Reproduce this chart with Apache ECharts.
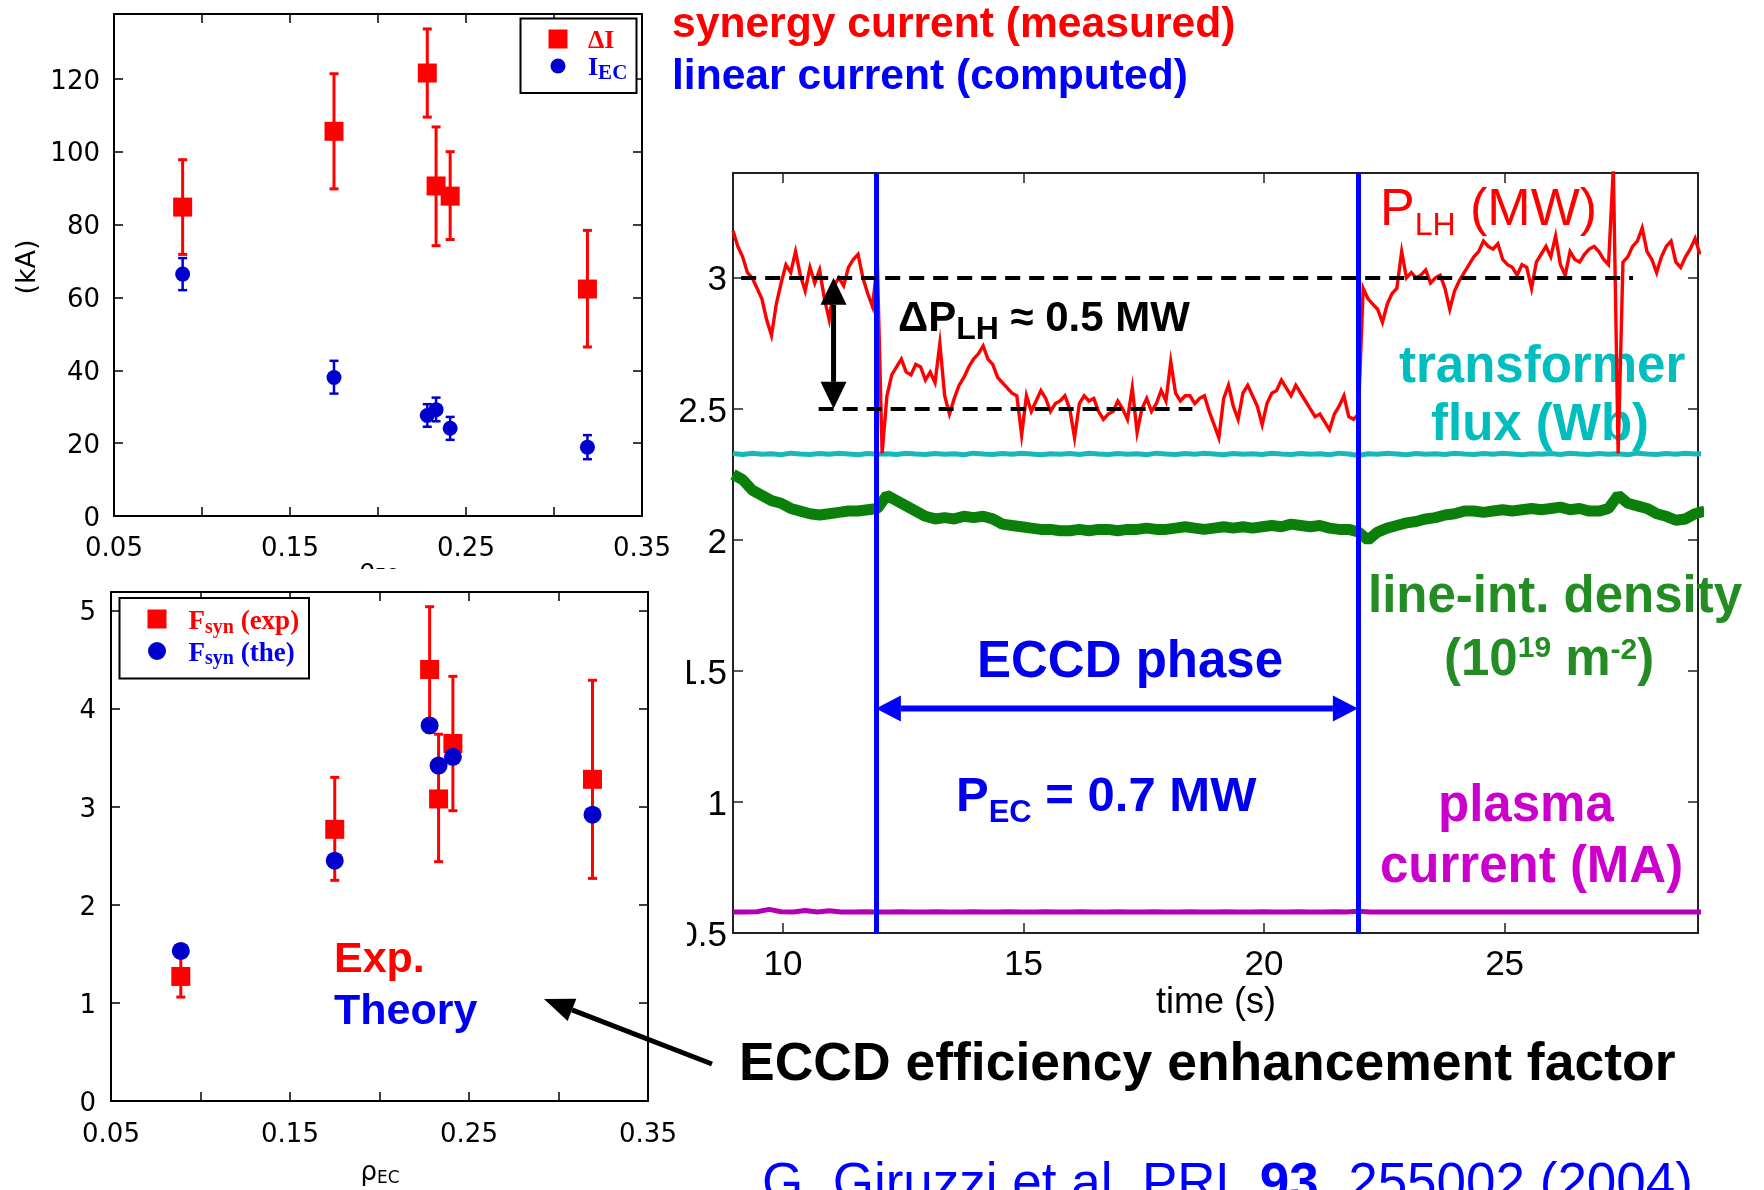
<!DOCTYPE html>
<html>
<head>
<meta charset="utf-8">
<title>ECCD / LHCD synergy</title>
<script src="https://cdn.jsdelivr.net/npm/echarts@6/dist/echarts.min.js"></script>
<style>
html, body { margin: 0; padding: 0; background: #fff; }
#chart { width: 1764px; height: 1190px; }
</style>
</head>
<body>
<div id="chart"></div>
<script>
// ---------- rho_EC scan ----------
const rhoEC = [0.089, 0.175, 0.228, 0.233, 0.241, 0.319];

// synergy current (measured), kA
const deltaI     = [84.8, 105.6, 121.6, 90.6, 87.8, 62.3];
const deltaILow  = [71.8, 89.8, 109.5, 74.2, 75.9, 46.4];
const deltaIHigh = [97.8, 121.4, 133.7, 106.8, 100.0, 78.4];

// linear ECCD current (computed), kA
const iEC     = [66.4, 38.0, 27.6, 29.2, 24.1, 18.9];
const iECLow  = [62.0, 33.6, 24.5, 26.0, 20.9, 15.6];
const iECHigh = [70.8, 42.6, 30.7, 32.5, 27.2, 22.2];

// ECCD efficiency enhancement factor
const fsynExp     = [1.27, 2.77, 4.40, 3.08, 3.645, 3.28];
const fsynExpLow  = [1.06, 2.25, 3.76, 2.44, 2.96, 2.27];
const fsynExpHigh = [1.47, 3.30, 5.04, 3.74, 4.33, 4.29];
const fsynThe     = [1.53, 2.45, 3.83, 3.42, 3.51, 2.92];

const rhoTicks = [0.05, 0.15, 0.25, 0.35];

// ---------- discharge time traces ----------
const TIME_MIN = 8.96, TIME_MAX = 29.02;
const TIME_TICKS = [10, 15, 20, 25];
const ECCD_ON = 11.93, ECCD_OFF = 21.95;
const PLH_BEFORE = 3.0, PLH_DURING = 2.5;

// P_LH (MW), sampled every 0.1 s from 8.96 s
const PLH_T0 = 8.96, PLH_DT = 0.1;
const plhMW = [
  3.18,3.12,3.08,3.02,3.00,2.96,2.92,2.84,2.78,2.90,
  2.98,3.05,3.02,3.10,3.01,2.95,3.04,2.98,3.03,2.92,
  2.84,2.97,3.00,2.97,3.04,3.07,3.09,3.00,2.94,2.89,
  3.06,2.33,2.55,2.63,2.66,2.69,2.64,2.63,2.67,2.66,
  2.61,2.64,2.60,2.75,2.55,2.48,2.54,2.59,2.62,2.66,
  2.69,2.71,2.74,2.69,2.67,2.62,2.60,2.58,2.56,2.55,
  2.40,2.55,2.49,2.53,2.57,2.54,2.49,2.52,2.53,2.55,
  2.50,2.39,2.52,2.55,2.53,2.54,2.49,2.46,2.48,2.49,
  2.53,2.50,2.46,2.58,2.41,2.50,2.54,2.49,2.52,2.57,
  2.53,2.68,2.56,2.53,2.55,2.55,2.52,2.54,2.55,2.49,
  2.44,2.39,2.54,2.59,2.51,2.46,2.56,2.59,2.55,2.51,
  2.44,2.52,2.56,2.57,2.61,2.58,2.55,2.59,2.56,2.53,
  2.50,2.47,2.48,2.45,2.42,2.48,2.51,2.55,2.47,2.46,
  2.48,2.96,2.92,2.90,2.88,2.83,2.90,2.94,2.96,3.10,
  3.00,3.02,3.00,3.01,3.03,2.98,3.00,3.01,2.96,2.88,
  2.95,2.99,3.02,3.05,3.08,3.10,3.14,3.12,3.11,3.13,
  3.07,3.05,3.04,3.01,3.05,3.04,2.96,3.06,3.09,3.12,
  3.08,3.16,3.05,3.01,3.10,3.07,3.06,3.09,3.11,3.12,
  3.10,3.07,3.05,3.42,2.33,3.06,3.08,3.12,3.14,3.19,
  3.10,3.07,3.02,3.08,3.12,3.14,3.06,3.04,3.08,3.11,
  3.15,3.09
];

// line-integrated density (1e19 m^-2), every 0.2 s
const SLOW_T0 = 8.96, SLOW_DT = 0.2;
const densityLine = [
  2.25,2.23,2.19,2.17,2.15,2.14,2.12,2.11,2.10,2.095,
  2.10,2.105,2.11,2.11,2.115,2.12,2.17,2.15,2.13,2.11,
  2.09,2.08,2.085,2.08,2.09,2.085,2.09,2.08,2.06,2.055,
  2.05,2.045,2.04,2.04,2.035,2.035,2.04,2.035,2.04,2.04,
  2.035,2.04,2.04,2.045,2.04,2.04,2.045,2.05,2.045,2.04,
  2.045,2.05,2.045,2.05,2.045,2.05,2.055,2.05,2.06,2.055,
  2.05,2.055,2.045,2.04,2.04,2.03,2.00,2.03,2.045,2.055,
  2.065,2.07,2.08,2.085,2.095,2.10,2.11,2.11,2.105,2.11,
  2.115,2.11,2.115,2.12,2.115,2.12,2.125,2.115,2.12,2.11,
  2.11,2.12,2.17,2.14,2.13,2.12,2.10,2.09,2.075,2.08,
  2.10,2.11
];

// transformer flux (Wb), every 0.2 s
const fluxWb = [
  2.330,2.326,2.331,2.327,2.329,2.325,2.331,2.328,2.326,2.330,
  2.327,2.331,2.328,2.325,2.330,2.327,2.329,2.326,2.331,2.328,
  2.326,2.330,2.327,2.329,2.325,2.331,2.328,2.326,2.330,2.327,
  2.331,2.328,2.325,2.329,2.327,2.330,2.326,2.331,2.328,2.326,
  2.330,2.327,2.329,2.325,2.331,2.328,2.326,2.330,2.327,2.331,
  2.328,2.325,2.330,2.327,2.329,2.326,2.331,2.328,2.326,2.330,
  2.327,2.329,2.325,2.331,2.328,2.322,2.329,2.327,2.331,2.328,
  2.325,2.330,2.327,2.329,2.326,2.331,2.328,2.326,2.330,2.327,
  2.331,2.328,2.325,2.329,2.327,2.330,2.326,2.331,2.328,2.326,
  2.330,2.327,2.329,2.325,2.331,2.328,2.326,2.330,2.327,2.331,
  2.328,2.329
];

// plasma current (MA), every 0.25 s
const IP_T0 = 8.96, IP_DT = 0.25;
const plasmaMA = [
  0.580,0.580,0.581,0.590,0.581,0.580,0.586,0.580,0.585,0.580,
  0.580,0.581,0.580,0.580,0.581,0.580,0.580,0.581,0.580,0.580,
  0.581,0.580,0.580,0.581,0.580,0.580,0.581,0.580,0.580,0.581,
  0.580,0.580,0.581,0.580,0.580,0.581,0.580,0.580,0.581,0.580,
  0.580,0.581,0.580,0.580,0.581,0.580,0.580,0.581,0.580,0.580,
  0.581,0.580,0.583,0.580,0.580,0.580,0.580,0.580,0.580,0.580,
  0.580,0.580,0.580,0.580,0.580,0.580,0.580,0.580,0.580,0.580,
  0.580,0.580,0.580,0.580,0.580,0.580,0.580,0.580,0.580,0.580,
  0.580,0.580
];

// ---------- colours / fonts ----------
const RED = '#ff0000', BLUE = '#0000ff', MARK_BLUE = '#0000cc', TXT_BLUE = '#0000ee';
const CYAN = '#19b7b7', CYAN_TXT = '#00bebe';
const GREEN = '#0a800a', GREEN_TXT = '#238c23';
const MAGENTA = '#b400b4', MAGENTA_TXT = '#cc00cc';
const SANS = "'Liberation Sans', Arial, sans-serif";
const SERIF = "'Liberation Serif', 'Times New Roman', serif";
const TICKFONT = "'DejaVu Sans', sans-serif";

// ---------- helpers ----------
const sampled = (t0, dt, vals) => vals.map((v, i) => [+(t0 + i * dt).toFixed(3), v]);
const zip3 = (a, b, c) => a.map((x, i) => [x, b[i], c[i]]);
const zip2 = (a, b) => a.map((x, i) => [x, b[i]]);

const mctx = document.createElement('canvas').getContext('2d');
const fontOf = p => `${p.weight || 'normal'} ${p.size}px ${p.family || SANS}`;

// one line of mixed-size text laid out on a common baseline
function textLine(x, baseline, parts, opt) {
  opt = opt || {};
  const widths = parts.map(p => { mctx.font = fontOf(p); return mctx.measureText(p.text).width; });
  const total = widths.reduce((a, b) => a + b, 0);
  let cx = opt.align === 'center' ? x - total / 2 : (opt.align === 'right' ? x - total : x);
  return parts.map((p, i) => {
    const font = fontOf(p);
    mctx.font = font;
    mctx.textBaseline = 'middle';
    const mid = mctx.measureText('H').actualBoundingBoxDescent;
    const el = {
      type: 'text', silent: true, z: opt.z == null ? 1 : opt.z,
      x: cx, y: baseline + (p.dy || 0) - mid + 0.06 * p.size,
      style: { text: p.text, font, fill: p.color || opt.color || '#000',
               align: 'left', verticalAlign: 'middle', textAlign: 'left', textVerticalAlign: 'middle' }
    };
    cx += widths[i];
    return el;
  });
}

function errorBars(color, lw, capHalf) {
  return function (params, api) {
    const x = api.value(0);
    const lo = api.coord([x, api.value(1)]);
    const hi = api.coord([x, api.value(2)]);
    const st = { stroke: color, lineWidth: lw };
    return { type: 'group', children: [
      { type: 'line', shape: { x1: lo[0], y1: lo[1], x2: hi[0], y2: hi[1] }, style: st },
      { type: 'line', shape: { x1: lo[0] - capHalf, y1: lo[1], x2: lo[0] + capHalf, y2: lo[1] }, style: st },
      { type: 'line', shape: { x1: hi[0] - capHalf, y1: hi[1], x2: hi[0] + capHalf, y2: hi[1] }, style: st }
    ]};
  };
}

function doubleArrow(color, lw, headLen, headHalf) {
  return function (params, api) {
    const a = api.coord([api.value(0), api.value(1)]);
    const b = api.coord([api.value(2), api.value(3)]);
    const dx = b[0] - a[0], dy = b[1] - a[1], len = Math.hypot(dx, dy);
    const ux = dx / len, uy = dy / len, nx = -uy, ny = ux;
    const a2 = [a[0] + ux * headLen, a[1] + uy * headLen];
    const b2 = [b[0] - ux * headLen, b[1] - uy * headLen];
    const head = (tip, base) => ({ type: 'polygon',
      shape: { points: [tip, [base[0] + nx * headHalf, base[1] + ny * headHalf], [base[0] - nx * headHalf, base[1] - ny * headHalf]] },
      style: { fill: color } });
    return { type: 'group', children: [
      { type: 'line', shape: { x1: a2[0], y1: a2[1], x2: b2[0], y2: b2[1] }, style: { stroke: color, lineWidth: lw } },
      head(a, a2), head(b, b2)
    ]};
  };
}

// ---------- axes ----------
function rhoAxis(gridIndex, pos, margin) {
  const labels = pos === 'bottom';
  return {
    type: 'value', gridIndex, position: pos, min: 0.05, max: 0.35, interval: 0.05,
    axisLine: { show: true, onZero: false, lineStyle: { color: '#000', width: 2 } },
    axisTick: { show: true, inside: true, length: 9, lineStyle: { color: '#000', width: 1.5 } },
    axisLabel: { show: labels, margin, fontFamily: TICKFONT, fontSize: 26, color: '#000',
      formatter: v => (rhoTicks.some(t => Math.abs(t - v) < 1e-6) ? v.toFixed(2) : '') },
    splitLine: { show: false }
  };
}
// vertical tick labels sit a few pixels below their ticks: a short line box with top alignment
function valueAxis(gridIndex, pos, min, max, interval, margin) {
  const labels = pos === 'left';
  return {
    type: 'value', gridIndex, position: pos, min, max, interval,
    axisLine: { show: true, onZero: false, lineStyle: { color: '#000', width: 2 } },
    axisTick: { show: true, inside: true, length: 9, lineStyle: { color: '#000', width: 1.5 } },
    axisLabel: { show: labels, margin, showMaxLabel: false, verticalAlign: 'top', lineHeight: 6,
      fontFamily: TICKFONT, fontSize: 26, color: '#000' },
    splitLine: { show: false }
  };
}
function timeAxis(pos) {
  return {
    type: 'value', gridIndex: 2, position: pos, min: TIME_MIN, max: TIME_MAX,
    axisLine: { show: true, onZero: false, lineStyle: { color: '#222', width: 2 } },
    axisTick: { show: true, inside: true, length: 10, customValues: TIME_TICKS, lineStyle: { color: '#222', width: 1.5 } },
    axisLabel: { show: pos === 'bottom', margin: 15, customValues: TIME_TICKS, fontFamily: SANS, fontSize: 35, color: '#000' },
    splitLine: { show: false }
  };
}
function traceValueAxis(pos) {
  return {
    type: 'value', gridIndex: 2, position: pos, min: 0.5, max: 3.4, interval: 0.5,
    axisLine: { show: true, onZero: false, lineStyle: { color: '#222', width: 2 } },
    axisTick: { show: true, inside: true, length: 10, lineStyle: { color: '#222', width: 1.5 } },
    axisLabel: { show: pos === 'left', margin: 6, showMaxLabel: false, verticalAlign: 'top', lineHeight: 6,
      fontFamily: SANS, fontSize: 35, color: '#000' },
    splitLine: { show: false }
  };
}

// ---------- annotation text ----------
const texts = [].concat(
  // headers
  textLine(672, 34, [{ text: 'synergy current (measured)', size: 42.6, weight: 'bold', color: RED }]),
  textLine(672, 86, [{ text: 'linear current (computed)', size: 42.6, weight: 'bold', color: BLUE }]),

  // legend (top panel)
  textLine(588, 46, [{ text: 'ΔI', size: 26, weight: 'bold', family: SERIF, color: RED }]),
  textLine(588, 73, [
    { text: 'I', size: 26, weight: 'bold', family: SERIF, color: TXT_BLUE },
    { text: 'EC', size: 21, weight: 'bold', family: SERIF, color: TXT_BLUE, dy: 5 }
  ]),
  // legend (bottom panel)
  textLine(188.5, 627.5, [
    { text: 'F', size: 27, weight: 'bold', family: SERIF, color: RED },
    { text: 'syn', size: 20, weight: 'bold', family: SERIF, color: RED, dy: 4 },
    { text: ' (exp)', size: 27, weight: 'bold', family: SERIF, color: RED }
  ]),
  textLine(188.5, 659, [
    { text: 'F', size: 27, weight: 'bold', family: SERIF, color: TXT_BLUE },
    { text: 'syn', size: 20, weight: 'bold', family: SERIF, color: TXT_BLUE, dy: 4 },
    { text: ' (the)', size: 27, weight: 'bold', family: SERIF, color: TXT_BLUE }
  ]),

  // rho_EC axis titles
  textLine(378, 576, [
    { text: 'ρ', size: 26, family: TICKFONT }, { text: 'EC', size: 17, family: TICKFONT, dy: 4 }
  ], { align: 'center' }),
  textLine(380, 1178, [
    { text: 'ρ', size: 26, family: TICKFONT }, { text: 'EC', size: 17, family: TICKFONT, dy: 4 }
  ], { align: 'center' }),

  // bottom-left labels
  textLine(334, 969, [{ text: 'Exp.', size: 43, weight: 'bold', color: RED }]),
  textLine(334, 1021, [{ text: 'Theory', size: 43, weight: 'bold', color: TXT_BLUE }]),
  textLine(739, 1077, [{ text: 'ECCD efficiency enhancement factor', size: 53.5, weight: 'bold', color: '#000' }]),
  textLine(762, 1197, [
    { text: 'G. Giruzzi et al. PRL ', size: 53, color: BLUE },
    { text: '93', size: 53, weight: 'bold', color: BLUE },
    { text: ', 255002 (2004)', size: 53, color: BLUE }
  ]),

  // time-trace panel
  textLine(1380, 222, [
    { text: 'P', size: 52, color: RED }, { text: 'LH', size: 32, color: RED, dy: 11 },
    { text: ' (MW)', size: 52, color: RED }
  ]),
  textLine(898, 328, [
    { text: 'ΔP', size: 42, weight: 'bold' }, { text: 'LH', size: 32, weight: 'bold', dy: 9 },
    { text: ' ≈ 0.5 MW', size: 42, weight: 'bold' }
  ], { color: '#000' }),
  textLine(1399, 379, [{ text: 'transformer', size: 51, weight: 'bold', color: CYAN_TXT }]),
  textLine(1431, 437, [{ text: 'flux (Wb)', size: 51, weight: 'bold', color: CYAN_TXT }]),
  textLine(1368, 609, [{ text: 'line-int. density', size: 51, weight: 'bold', color: GREEN_TXT }]),
  textLine(1444, 672, [
    { text: '(10', size: 51, weight: 'bold', color: GREEN_TXT },
    { text: '19', size: 30, weight: 'bold', color: GREEN_TXT, dy: -17 },
    { text: ' m', size: 51, weight: 'bold', color: GREEN_TXT },
    { text: '-2', size: 30, weight: 'bold', color: GREEN_TXT, dy: -15 },
    { text: ')', size: 51, weight: 'bold', color: GREEN_TXT }
  ]),
  textLine(977, 674, [{ text: 'ECCD phase', size: 51, weight: 'bold', color: TXT_BLUE }]),
  textLine(956, 808, [
    { text: 'P', size: 49, weight: 'bold', color: TXT_BLUE },
    { text: 'EC', size: 31, weight: 'bold', color: TXT_BLUE, dy: 12 },
    { text: ' = 0.7 MW', size: 49, weight: 'bold', color: TXT_BLUE }
  ]),
  textLine(1438, 818, [{ text: 'plasma', size: 51, weight: 'bold', color: MAGENTA_TXT }]),
  textLine(1380, 879, [{ text: 'current (MA)', size: 51, weight: 'bold', color: MAGENTA_TXT }]),
  textLine(1216, 1011, [{ text: 'time (s)', size: 36 }], { align: 'center' })
);

// pointer from the bottom-left panel to its caption
const ptrFrom = [712, 1064], ptrTip = [544, 999];
const ptrEls = (function () {
  const dx = ptrTip[0] - ptrFrom[0], dy = ptrTip[1] - ptrFrom[1], len = Math.hypot(dx, dy);
  const ux = dx / len, uy = dy / len, nx = -uy, ny = ux, hl = 30, hw = 12;
  const base = [ptrTip[0] - ux * hl, ptrTip[1] - uy * hl];
  return [
    { type: 'line', z: 1, silent: true, shape: { x1: ptrFrom[0], y1: ptrFrom[1], x2: base[0], y2: base[1] },
      style: { stroke: '#000', lineWidth: 5 } },
    { type: 'polygon', z: 1, silent: true,
      shape: { points: [ptrTip, [base[0] + nx * hw, base[1] + ny * hw], [base[0] - nx * hw, base[1] - ny * hw]] },
      style: { fill: '#000' } }
  ];
})();

const legendMarks = [
  { type: 'rect', z: 1, silent: true, shape: { x: 520.5, y: 18.5, width: 116, height: 74.5 },
    style: { fill: '#fff', stroke: '#000', lineWidth: 2 } },
  { type: 'rect', z: 1, silent: true, shape: { x: 548.5, y: 29.5, width: 19, height: 19 }, style: { fill: RED } },
  { type: 'circle', z: 1, silent: true, shape: { cx: 558, cy: 66, r: 7.5 }, style: { fill: MARK_BLUE } },
  { type: 'rect', z: 1, silent: true, shape: { x: 119.5, y: 598, width: 189.5, height: 80.5 },
    style: { fill: '#fff', stroke: '#000', lineWidth: 2 } },
  { type: 'rect', z: 1, silent: true, shape: { x: 147.5, y: 609.5, width: 19, height: 19 }, style: { fill: RED } },
  { type: 'circle', z: 1, silent: true, shape: { cx: 157, cy: 651, r: 9 }, style: { fill: MARK_BLUE } }
];

// kA axis title
const kaTitle = { type: 'text', z: 1, silent: true, x: 28, y: 267, rotation: Math.PI / 2,
  style: { text: '(kA)', font: `normal 27px ${TICKFONT}`, fill: '#000',
           align: 'center', verticalAlign: 'middle', textAlign: 'center', textVerticalAlign: 'middle' } };

// white panel edges: the lower-left panel sits over the ends of neighbouring labels
const masks = [
  { type: 'rect', z: 100, silent: true, shape: { x: 0, y: 569, width: 687, height: 21 }, style: { fill: '#fff' } },
  { type: 'rect', z: 100, silent: true, shape: { x: 650, y: 590, width: 37, height: 390 }, style: { fill: '#fff' } }
];

const option = {
  animation: false,
  backgroundColor: '#fff',
  grid: [
    { left: 114, top: 14, width: 528, height: 502, containLabel: false, outerBoundsMode: 'none' },
    { left: 111, top: 592, width: 537, height: 509, containLabel: false, outerBoundsMode: 'none' },
    { left: 733, top: 173, width: 965, height: 760, containLabel: false, outerBoundsMode: 'none' }
  ],
  xAxis: [
    rhoAxis(0, 'bottom', 20), rhoAxis(0, 'top', 8),
    rhoAxis(1, 'bottom', 21), rhoAxis(1, 'top', 8),
    timeAxis('bottom'), timeAxis('top')
  ],
  yAxis: [
    valueAxis(0, 'left', 0, 137.8, 20, 14), valueAxis(0, 'right', 0, 137.8, 20, 8),
    valueAxis(1, 'left', 0, 5.19, 1, 15), valueAxis(1, 'right', 0, 5.19, 1, 8),
    traceValueAxis('left'), traceValueAxis('right')
  ],
  series: [
    // ---- currents vs rho_EC ----
    { type: 'custom', name: 'ΔI error', xAxisIndex: 0, yAxisIndex: 0, z: 2, silent: true,
      renderItem: errorBars(RED, 3, 4.5), encode: { x: 0, y: [1, 2] },
      data: zip3(rhoEC, deltaILow, deltaIHigh) },
    { type: 'custom', name: 'IEC error', xAxisIndex: 0, yAxisIndex: 0, z: 2, silent: true,
      renderItem: errorBars(MARK_BLUE, 2.5, 4.5), encode: { x: 0, y: [1, 2] },
      data: zip3(rhoEC, iECLow, iECHigh) },
    { type: 'scatter', name: 'ΔI', xAxisIndex: 0, yAxisIndex: 0, z: 3, silent: true,
      symbol: 'rect', symbolSize: 19, itemStyle: { color: RED, opacity: 1 }, data: zip2(rhoEC, deltaI) },
    { type: 'scatter', name: 'IEC', xAxisIndex: 0, yAxisIndex: 0, z: 3, silent: true,
      symbol: 'circle', symbolSize: 15, itemStyle: { color: MARK_BLUE, opacity: 1 }, data: zip2(rhoEC, iEC) },

    // ---- enhancement factor vs rho_EC ----
    { type: 'custom', name: 'Fsyn error', xAxisIndex: 2, yAxisIndex: 2, z: 2, silent: true,
      renderItem: errorBars(RED, 3, 4.5), encode: { x: 0, y: [1, 2] },
      data: zip3(rhoEC, fsynExpLow, fsynExpHigh) },
    { type: 'scatter', name: 'Fsyn (exp)', xAxisIndex: 2, yAxisIndex: 2, z: 3, silent: true,
      symbol: 'rect', symbolSize: 19, itemStyle: { color: RED, opacity: 1 }, data: zip2(rhoEC, fsynExp) },
    { type: 'scatter', name: 'Fsyn (the)', xAxisIndex: 2, yAxisIndex: 2, z: 4, silent: true,
      symbol: 'circle', symbolSize: 18, itemStyle: { color: MARK_BLUE, opacity: 1 }, data: zip2(rhoEC, fsynThe) },

    // ---- time traces ----
    { type: 'line', name: 'ECCD window', xAxisIndex: 4, yAxisIndex: 4, z: 1, data: [], silent: true,
      markLine: { silent: true, symbol: ['none', 'none'], label: { show: false },
        lineStyle: { color: BLUE, width: 5, type: 'solid' },
        emphasis: { disabled: true },
        data: [{ xAxis: ECCD_ON }, { xAxis: ECCD_OFF }] } },
    { type: 'line', name: 'line-int. density', xAxisIndex: 4, yAxisIndex: 4, z: 2, silent: true,
      showSymbol: false, symbol: 'none', clip: true,
      lineStyle: { color: GREEN, width: 11 }, data: sampled(SLOW_T0, SLOW_DT, densityLine) },
    { type: 'line', name: 'transformer flux', xAxisIndex: 4, yAxisIndex: 4, z: 3, silent: true,
      showSymbol: false, symbol: 'none', clip: true,
      lineStyle: { color: CYAN, width: 5 }, data: sampled(SLOW_T0, SLOW_DT, fluxWb) },
    { type: 'line', name: 'plasma current', xAxisIndex: 4, yAxisIndex: 4, z: 3, silent: true,
      showSymbol: false, symbol: 'none', clip: true,
      lineStyle: { color: MAGENTA, width: 5 }, data: sampled(IP_T0, IP_DT, plasmaMA) },
    { type: 'line', name: 'P_LH', xAxisIndex: 4, yAxisIndex: 4, z: 4, silent: true,
      showSymbol: false, symbol: 'none', clip: true,
      lineStyle: { color: RED, width: 3.4, join: 'miter' }, data: sampled(PLH_T0, PLH_DT, plhMW) },
    { type: 'line', name: 'P_LH levels', xAxisIndex: 4, yAxisIndex: 4, z: 5, data: [], silent: true,
      markLine: { silent: true, symbol: ['none', 'none'], label: { show: false },
        lineStyle: { color: '#000', width: 3.8, type: [15, 9] },
        emphasis: { disabled: true },
        data: [
          [{ coord: [9.13, PLH_BEFORE] }, { coord: [27.67, PLH_BEFORE] }],
          [{ coord: [10.74, PLH_DURING] }, { coord: [18.51, PLH_DURING] }]
        ] } },
    { type: 'custom', name: 'ΔP_LH arrow', xAxisIndex: 4, yAxisIndex: 4, z: 5, silent: true, clip: false,
      renderItem: doubleArrow('#000', 5, 27, 13), encode: { x: [0, 2], y: [1, 3] },
      data: [[11.05, PLH_BEFORE, 11.05, PLH_DURING]] },
    { type: 'custom', name: 'ECCD phase arrow', xAxisIndex: 4, yAxisIndex: 4, z: 5, silent: true, clip: false,
      renderItem: doubleArrow(BLUE, 6, 25, 13), encode: { x: [0, 2], y: [1, 3] },
      data: [[ECCD_ON, 1.357, ECCD_OFF, 1.357]] }
  ],
  graphic: { elements: [].concat(legendMarks, [kaTitle], texts, ptrEls, masks) }
};

const chart = echarts.init(document.getElementById('chart'), null, { renderer: 'canvas', width: 1764, height: 1190 });
chart.setOption(option);
</script>
</body>
</html>
